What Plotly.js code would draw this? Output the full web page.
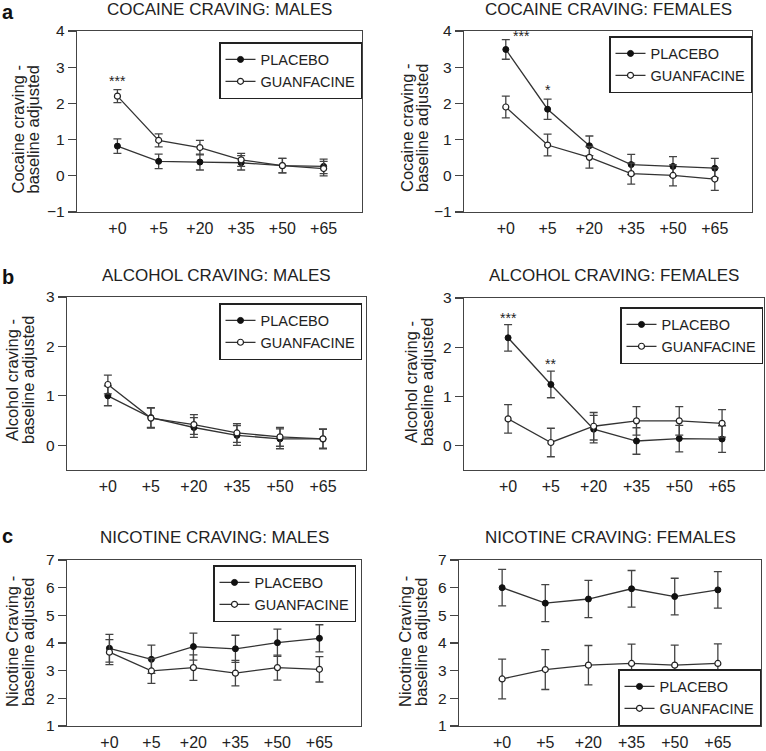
<!DOCTYPE html>
<html>
<head>
<meta charset="utf-8">
<script src="https://cdn.plot.ly/plotly-3.0.1.min.js"></script>
<style>html,body{margin:0;padding:0;background:#fff}#chart{width:766px;height:751px}</style>
</head>
<body>
<div id="chart"></div>
<script>
// ---- data ----
const timeLabels = ['+0', '+5', '+20', '+35', '+50', '+65'];

const cocaineMalesPlacebo      = [0.82, 0.40, 0.38, 0.36, 0.28, 0.26];
const cocaineMalesPlaceboErr   = [0.20, 0.20, 0.22, 0.20, 0.20, 0.20];
const cocaineMalesGuanf        = [2.20, 0.98, 0.78, 0.44, 0.28, 0.20];
const cocaineMalesGuanfErr     = [0.18, 0.18, 0.20, 0.18, 0.20, 0.20];

const cocaineFemalesPlacebo    = [3.49, 1.84, 0.83, 0.31, 0.26, 0.21];
const cocaineFemalesPlaceboErr = [0.27, 0.28, 0.27, 0.28, 0.27, 0.27];
const cocaineFemalesGuanf      = [1.90, 0.85, 0.51, 0.06, 0.01, -0.09];
const cocaineFemalesGuanfErr   = [0.30, 0.30, 0.30, 0.29, 0.29, 0.31];

const alcoholMalesPlacebo      = [1.00, 0.56, 0.36, 0.20, 0.13, 0.13];
const alcoholMalesPlaceboErr   = [0.20, 0.20, 0.20, 0.20, 0.20, 0.20];
const alcoholMalesGuanf        = [1.23, 0.55, 0.42, 0.25, 0.17, 0.13];
const alcoholMalesGuanfErr     = [0.19, 0.20, 0.20, 0.19, 0.19, 0.19];

const alcoholFemalesPlacebo    = [2.19, 1.24, 0.33, 0.09, 0.14, 0.13];
const alcoholFemalesPlaceboErr = [0.27, 0.27, 0.28, 0.27, 0.27, 0.27];
const alcoholFemalesGuanf      = [0.54, 0.06, 0.39, 0.50, 0.50, 0.45];
const alcoholFemalesGuanfErr   = [0.29, 0.29, 0.28, 0.29, 0.29, 0.28];

const nicotineMalesPlacebo      = [3.81, 3.41, 3.87, 3.79, 4.01, 4.17];
const nicotineMalesPlaceboErr   = [0.50, 0.51, 0.49, 0.49, 0.49, 0.49];
const nicotineMalesGuanf        = [3.67, 2.99, 3.11, 2.91, 3.11, 3.05];
const nicotineMalesGuanfErr     = [0.45, 0.45, 0.46, 0.46, 0.45, 0.46];

const nicotineFemalesPlacebo    = [6.00, 5.44, 5.59, 5.96, 5.68, 5.92];
const nicotineFemalesPlaceboErr = [0.66, 0.67, 0.67, 0.66, 0.66, 0.66];
const nicotineFemalesGuanf      = [2.70, 3.04, 3.20, 3.26, 3.20, 3.26];
const nicotineFemalesGuanfErr   = [0.72, 0.72, 0.71, 0.70, 0.72, 0.71];

const panelTitles = ['COCAINE CRAVING: MALES', 'COCAINE CRAVING: FEMALES',
                     'ALCOHOL CRAVING: MALES', 'ALCOHOL CRAVING: FEMALES',
                     'NICOTINE CRAVING: MALES', 'NICOTINE CRAVING: FEMALES'];
const yTitleLine1 = ['Cocaine craving -', 'Cocaine craving -', 'Alcohol craving -',
                     'Alcohol craving -', 'Nicotine Craving -', 'Nicotine Craving -'];
const yTitleLine2 = 'baseline adjusted';
const seriesNames = ['PLACEBO', 'GUANFACINE'];

// significance markers: [panel index, x index, y, text]
const sigMarks = [
  [0, 0, 2.62, '***'],
  [1, 0.38, 3.86, '***'],
  [1, 1, 2.36, '*'],
  [3, 0, 2.6, '***'],
  [3, 1, 1.65, '**']
];

// ---- layout geometry (pixels) ----
const W = 766, H = 751;
const FONT = 'Liberation Sans, Arial, Helvetica, sans-serif';
const panels = [
  {pl: cocaineMalesPlacebo, ple: cocaineMalesPlaceboErr, gu: cocaineMalesGuanf, gue: cocaineMalesGuanfErr,
   box: [77, 362, 31, 212], xr: [-0.98, 5.93], yr: [-1, 4], yt: [-1,0,1,2,3,4], leg: [362, 42, 'top'], tY: 9,
   yl: [17.5, 32.5, 130]},
  {pl: cocaineFemalesPlacebo, ple: cocaineFemalesPlaceboErr, gu: cocaineFemalesGuanf, gue: cocaineFemalesGuanfErr,
   box: [464, 752, 31, 212], xr: [-1.0, 5.89], yr: [-1, 4], yt: [-1,0,1,2,3,4], leg: [752, 36, 'top'], tY: 9,
   yl: [407, 422, 128]},
  {pl: alcoholMalesPlacebo, ple: alcoholMalesPlaceboErr, gu: alcoholMalesGuanf, gue: alcoholMalesGuanfErr,
   box: [67, 366, 297, 470], xr: [-0.95, 6.0], yr: [-0.5, 3], yt: [0,1,2,3], leg: [362, 303, 'top'], tY: 276,
   yl: [12, 28, 380]},
  {pl: alcoholFemalesPlacebo, ple: alcoholFemalesPlaceboErr, gu: alcoholFemalesGuanf, gue: alcoholFemalesGuanfErr,
   box: [464, 764, 298, 470], xr: [-1.03, 5.98], yr: [-0.5, 3], yt: [0,1,2,3], leg: [763, 307, 'top'], tY: 276,
   yl: [411, 427, 382]},
  {pl: nicotineMalesPlacebo, ple: nicotineMalesPlaceboErr, gu: nicotineMalesGuanf, gue: nicotineMalesGuanfErr,
   box: [67, 361, 560, 726], xr: [-1.01, 5.99], yr: [1, 7], yt: [1,2,3,4,5,6,7], leg: [356, 565, 'top'], tY: 537,
   yl: [12, 28, 642]},
  {pl: nicotineFemalesPlacebo, ple: nicotineFemalesPlaceboErr, gu: nicotineFemalesGuanf, gue: nicotineFemalesGuanfErr,
   box: [459, 761, 560, 726], xr: [-1.0, 6.0], yr: [1, 7], yt: [1,2,3,4,5,6,7], leg: [761, 726, 'bottom'], tY: 537,
   yl: [405, 421, 642]}
];

const traces = [];
const layout = {
  width: W, height: H,
  margin: {l: 0, r: 0, t: 0, b: 0},
  paper_bgcolor: '#fff', plot_bgcolor: '#fff',
  font: {family: FONT, size: 15, color: '#222'},
  showlegend: true,
  annotations: []
};

const lineCol = '#333';
panels.forEach((p, i) => {
  const n = i + 1;
  const xa = n === 1 ? 'x' : 'x' + n;
  const ya = n === 1 ? 'y' : 'y' + n;
  const legName = n === 1 ? 'legend' : 'legend' + n;
  const idx = timeLabels.map((_, k) => k);
  traces.push({
    type: 'scatter', mode: 'lines+markers', name: seriesNames[0],
    x: idx, y: p.pl, xaxis: xa, yaxis: ya, legend: legName,
    line: {color: lineCol, width: 1.3},
    marker: {symbol: 'circle', size: 6, color: '#111', line: {color: '#111', width: 1}},
    error_y: {type: 'data', array: p.ple, visible: true, color: '#444', thickness: 1.3, width: 4}
  });
  traces.push({
    type: 'scatter', mode: 'lines+markers', name: seriesNames[1],
    x: idx, y: p.gu, xaxis: xa, yaxis: ya, legend: legName,
    line: {color: lineCol, width: 1.3},
    marker: {symbol: 'circle', size: 6, color: '#fff', line: {color: '#222', width: 1.2}},
    error_y: {type: 'data', array: p.gue, visible: true, color: '#444', thickness: 1.3, width: 4}
  });
  const [L, R, T, B] = p.box;
  layout['xaxis' + (n === 1 ? '' : n)] = {
    domain: [L / W, R / W], anchor: ya, range: p.xr,
    tickvals: idx, ticktext: timeLabels, ticks: '', ticklabelstandoff: 1,
    showline: true, mirror: true, linecolor: '#444', linewidth: 1.3,
    showgrid: false, zeroline: false, fixedrange: true,
    tickfont: {size: 16, color: '#222'}
  };
  layout['yaxis' + (n === 1 ? '' : n)] = {
    domain: [1 - B / H, 1 - T / H], anchor: xa, range: p.yr,
    tickvals: p.yt, ticks: 'outside', ticklen: 8, tickwidth: 1.2, tickcolor: '#444',
    showline: true, mirror: true, linecolor: '#444', linewidth: 1.3,
    showgrid: false, zeroline: false, fixedrange: true,
    tickfont: {size: 15.5, color: '#222'}
  };
  layout[legName] = {
    x: p.leg[0] / W, xanchor: 'right',
    y: 1 - p.leg[1] / H, yanchor: p.leg[2],
    bgcolor: '#fff', bordercolor: '#222', borderwidth: 1.5,
    font: {size: 14.5, color: '#222'}, tracegroupgap: 0,
    itemwidth: 30
  };
  layout.annotations.push({
    xref: 'paper', yref: 'paper', x: ((L + R) / 2) / W, y: 1 - p.tY / H,
    xanchor: 'center', yanchor: 'middle', showarrow: false,
    text: panelTitles[i], font: {size: 17, color: '#222'}
  });
  // y-axis title, two lines
  [yTitleLine1[i], yTitleLine2].forEach((t, k) => {
    layout.annotations.push({
      xref: 'paper', yref: 'paper', x: p.yl[k] / W, y: 1 - p.yl[2] / H,
      xanchor: 'center', yanchor: 'middle', showarrow: false, textangle: -90,
      text: t, font: {size: 16.5, color: '#222'}
    });
  });
});

sigMarks.forEach(s => {
  const n = s[0] + 1;
  layout.annotations.push({
    xref: n === 1 ? 'x' : 'x' + n, yref: n === 1 ? 'y' : 'y' + n,
    x: s[1], y: s[2], text: s[3], showarrow: false,
    xanchor: 'center', yanchor: 'middle', font: {size: 14, color: '#222'}
  });
});

// panel letters
[['a', 0, 'top'], ['b', 277, 'middle'], ['c', 536, 'middle']].forEach(l => {
  layout.annotations.push({
    xref: 'paper', yref: 'paper', x: 1 / W, y: 1 - l[1] / H,
    xanchor: 'left', yanchor: l[2], showarrow: false, borderpad: 0,
    text: '<b>' + l[0] + '</b>', font: {size: 20, color: '#111'}
  });
});

Plotly.newPlot('chart', traces, layout, {displayModeBar: false, staticPlot: true});
</script>
</body>
</html>
